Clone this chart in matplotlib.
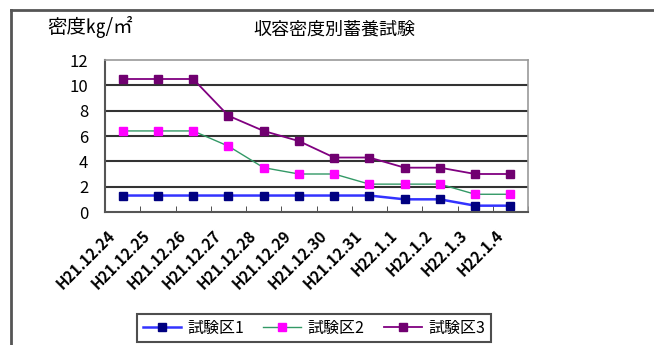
import matplotlib
matplotlib.use('Agg')
import numpy as np
import matplotlib.pyplot as plt
import matplotlib.transforms as mtransforms
from matplotlib.lines import Line2D

plt.rcParams['font.family'] = ['Noto Sans CJK JP', 'DejaVu Sans']

dates = ["H21.12.24", "H21.12.25", "H21.12.26", "H21.12.27", "H21.12.28", "H21.12.29",
         "H21.12.30", "H21.12.31", "H22.1.1", "H22.1.2", "H22.1.3", "H22.1.4"]
area1 = [1.3, 1.3, 1.3, 1.3, 1.3, 1.3, 1.3, 1.3, 1.0, 1.0, 0.5, 0.5]
area2 = [6.4, 6.4, 6.4, 5.2, 3.5, 3.0, 3.0, 2.2, 2.2, 2.2, 1.4, 1.4]
area3 = [10.5, 10.5, 10.5, 7.6, 6.4, 5.6, 4.3, 4.3, 3.5, 3.5, 3.0, 3.0]
names = ["試験区1", "試験区2", "試験区3"]

fig = plt.figure(figsize=(6.54, 3.45), dpi=100)
ax = fig.add_axes([105/654, 1-212/345, 423/654, 152/345])

x = np.arange(len(dates))
ax.plot(x, area1, color='#3333ff', lw=1.8, marker='s', ms=6, mfc='#000080', mec='#000080', label=names[0])
ax.plot(x, area2, color='#339966', lw=1.0, marker='s', ms=6, mfc='#ff00ff', mec='#ff00ff', label=names[1])
ax.plot(x, area3, color='#800080', lw=1.3, marker='s', ms=6, mfc='#700070', mec='#700070', label=names[2])

ax.set_xlim(-0.5, len(dates) - 0.5)
ax.set_ylim(0, 12)
ax.set_yticks(range(0, 13, 2))
ax.tick_params(axis='y', length=0, labelsize=12, pad=12)
for yv in range(2, 12, 2):
    ax.axhline(yv, color='#333333', lw=1.5, zorder=0)

ax.set_xticks(x)
ax.set_xticklabels(dates, rotation=45, ha='right', va='center', rotation_mode='anchor',
                   fontsize=11, fontweight='bold')
ax.tick_params(axis='x', which='major', length=0, pad=15)
shift = mtransforms.ScaledTranslation(-10/100, 0, fig.dpi_scale_trans)
for lab in ax.get_xticklabels():
    lab.set_transform(lab.get_transform() + shift)
ax.set_xticks(np.arange(-0.5, len(dates), 1), minor=True)
ax.tick_params(axis='x', which='minor', direction='in', length=4, color='#333333')

for s in ['left', 'bottom']:
    ax.spines[s].set_color('#555555')
    ax.spines[s].set_linewidth(1.5)
for s in ['top', 'right']:
    ax.spines[s].set_color('#999999')
    ax.spines[s].set_linewidth(1.2)

fig.text(334/654, 1-30/345, "収容密度別蓄養試験", ha='center', va='center', fontsize=13)
fig.text(47/654, 1-27/345, "密度㎏/㎡", ha='left', va='center', fontsize=14)

leg = fig.legend(loc='center', bbox_to_anchor=(314/654, 1-328/345), ncol=3, fontsize=11.5,
                 frameon=True, fancybox=False, edgecolor='#222222', handlelength=2.4,
                 columnspacing=1.2, handletextpad=0.4, borderpad=0.35)
leg.get_frame().set_linewidth(1.5)

# outer frame: top and left edges only
fig.add_artist(Line2D([11/654, 1], [1-10/345, 1-10/345], color='#555555', lw=2))
fig.add_artist(Line2D([11/654, 11/654], [0, 1-10/345], color='#555555', lw=2))

fig.savefig("out.png", dpi=100)
